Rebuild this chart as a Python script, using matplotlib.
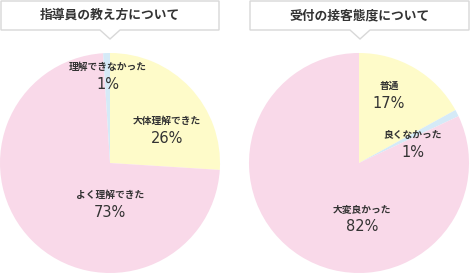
import matplotlib
matplotlib.use("Agg")
import matplotlib.pyplot as plt
from matplotlib.patches import Polygon

plt.rcParams['font.family'] = ['Noto Sans CJK JP', 'DejaVu Sans']

W, H = 470, 273

titles = ["指導員の教え方について", "受付の接客態度について"]
left_labels = ["大体理解できた", "よく理解できた", "理解できなかった"]
left_values = [26, 73, 1]
right_labels = ["普通", "良くなかった", "大変良かった"]
right_values = [17, 1, 82]
left_colors = ["#fefbc9", "#f9d9e9", "#d5eaf7"]
right_colors = ["#fefbc9", "#d5eaf7", "#f9d9e9"]

fig = plt.figure(figsize=(W / 100, H / 100), dpi=100)
ax = fig.add_axes([0, 0, 1, 1])

def Y(py):
    return H - py

R = 110
ax.pie(left_values, colors=left_colors, startangle=90, counterclock=False,
       center=(110, Y(163)), radius=R, wedgeprops=dict(linewidth=0))
ax.pie(right_values, colors=right_colors, startangle=90, counterclock=False,
       center=(359, Y(163)), radius=R, wedgeprops=dict(linewidth=0))
ax.set_xlim(0, W)
ax.set_ylim(0, H)
ax.set_aspect('equal')
ax.axis('off')

tc = "#333333"
def label(x, y, name, val):
    ax.text(x, Y(y), name, ha='center', va='center', fontsize=7, color=tc, fontweight='bold')
    ax.text(x, Y(y + 17.5), f"{val}%", ha='center', va='center', fontsize=10.5, color=tc,
            family=['DejaVu Sans'])

label(108, 67, left_labels[2], left_values[2])
label(167, 121, left_labels[0], left_values[0])
label(110, 195, left_labels[1], left_values[1])
label(389, 86, right_labels[0], right_values[0])
label(413, 135, right_labels[1], right_values[1])
label(362, 209, right_labels[2], right_values[2])

def title_box(x0, x1, tip_x, text):
    y0, y1 = 1, 30
    pts = [(x0, Y(y0)), (x1, Y(y0)), (x1, Y(y1)), (tip_x + 10, Y(y1)),
           (tip_x, Y(39)), (tip_x - 10, Y(y1)), (x0, Y(y1))]
    ax.add_patch(Polygon(pts, closed=True, facecolor='white', edgecolor='#d8d8d8',
                         linewidth=1, zorder=5))
    ax.text((x0 + x1) / 2, Y(15.5), text, ha='center', va='center', fontsize=9.2,
            fontweight='bold', color=tc, zorder=6)

title_box(1, 219, 110, titles[0])
title_box(250, 469, 360, titles[1])

fig.savefig("out.png", dpi=100)
